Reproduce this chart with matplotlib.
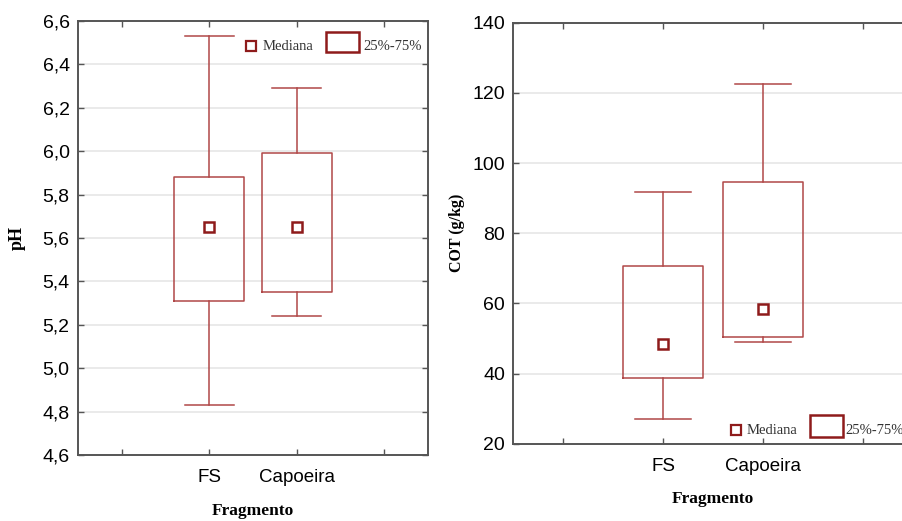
import matplotlib
matplotlib.use("Agg")
import matplotlib.pyplot as plt
from matplotlib.patches import Rectangle

# Fragment groups
categories = ["FS", "Capoeira"]

# pH summary (min, Q1, median, Q3, max)
ph_min = [4.83, 5.24]
ph_q1 = [5.31, 5.35]
ph_med = [5.65, 5.65]
ph_q3 = [5.88, 5.99]
ph_max = [6.53, 6.29]
ph_ticks = [4.6, 4.8, 5.0, 5.2, 5.4, 5.6, 5.8, 6.0, 6.2, 6.4, 6.6]

# COT summary (g/kg)
cot_min = [26.9, 49.1]
cot_q1 = [38.7, 50.4]
cot_med = [48.3, 58.5]
cot_q3 = [70.6, 94.5]
cot_max = [91.7, 122.5]
cot_ticks = [20, 40, 60, 80, 100, 120, 140]

box_color = "#b04848"
mark_color = "#8e1b1b"
spine_color = "#555555"

plt.rcParams["font.family"] = ["Liberation Sans", "DejaVu Sans"]

fig = plt.figure(figsize=(9.03, 5.21), dpi=100)
ax1 = fig.add_axes([78 / 903, 66 / 521, 350 / 903, 434 / 521])
ax2 = fig.add_axes([513.3 / 903, 77.3 / 521, 399.7 / 903, 421 / 521])


def draw_panel(ax, lo, q1, med, q3, hi, ticks, ylabel, fmt, ysize):
    stats = []
    for i in range(len(categories)):
        stats.append(dict(whislo=lo[i], q1=q1[i], med=med[i], q3=q3[i], whishi=hi[i]))
    pos = [1, 2]
    ax.bxp(stats, positions=pos, widths=0.8, capwidths=0.56, showfliers=False,
           boxprops=dict(color=box_color, linewidth=1.1),
           whiskerprops=dict(color=box_color, linewidth=1.1),
           capprops=dict(color=box_color, linewidth=1.1),
           medianprops=dict(linewidth=0))
    ax.plot(pos, med, linestyle="none", marker="s", markersize=6.5,
            markerfacecolor="white", markeredgecolor=mark_color, markeredgewidth=1.8)

    ax.set_xlim(-0.5, 3.5)
    ax.set_ylim(ticks[0], ticks[-1])
    ax.set_xticks([0, 1, 2, 3])
    ax.set_xticklabels(["", categories[0], categories[1], ""], fontsize=13.5)
    ax.set_yticks(ticks)
    ax.set_yticklabels([fmt(t) for t in ticks], fontsize=14)
    ax.tick_params(direction="in", length=4, width=1, color=spine_color,
                   top=True, right=True)
    ax.tick_params(axis="x", pad=10)
    ax.tick_params(axis="y", pad=6)
    for t in ticks[1:-1]:
        ax.axhline(t, color="#e8e8e8", linewidth=1.3, zorder=0)
    for s in ax.spines.values():
        s.set_color(spine_color)
        s.set_linewidth(1.4)
    ax.set_xlabel("Fragmento", family="Liberation Serif", fontweight="bold",
                  fontsize=12.5, labelpad=12)
    ax.set_ylabel(ylabel, family="Liberation Serif", fontweight="bold", fontsize=ysize)


def draw_key(ax, mx, my, tx, rx, ry, rw, rh, t2x):
    ax.plot([mx], [my], transform=ax.transAxes, marker="s", markersize=7,
            markerfacecolor="white", markeredgecolor=mark_color,
            markeredgewidth=1.6, clip_on=False)
    ax.text(tx, my, "Mediana", transform=ax.transAxes, va="center", ha="left",
            family="Liberation Serif", fontsize=10.5, color="#333333")
    ax.add_patch(Rectangle((rx, ry), rw, rh, transform=ax.transAxes,
                           facecolor="white", edgecolor=mark_color,
                           linewidth=1.8, clip_on=False))
    ax.text(t2x, my, "25%-75%", transform=ax.transAxes, va="center", ha="left",
            family="Liberation Serif", fontsize=10.5, color="#333333", clip_on=False)


draw_panel(ax1, ph_min, ph_q1, ph_med, ph_q3, ph_max, ph_ticks, "pH",
           lambda v: f"{v:.1f}".replace(".", ","), 13)
ax1.yaxis.set_label_coords(-0.15, 0.5)
draw_key(ax1, 0.493, 0.942, 0.527, 0.708, 0.929, 0.095, 0.046, 0.814)

draw_panel(ax2, cot_min, cot_q1, cot_med, cot_q3, cot_max, cot_ticks, "COT (g/kg)",
           lambda v: f"{v:d}", 11.5)
ax2.yaxis.set_label_coords(-0.12, 0.5)
draw_key(ax2, 0.556, 0.032, 0.583, 0.742, 0.017, 0.082, 0.051, 0.832)

fig.savefig("out.png", dpi=100)
